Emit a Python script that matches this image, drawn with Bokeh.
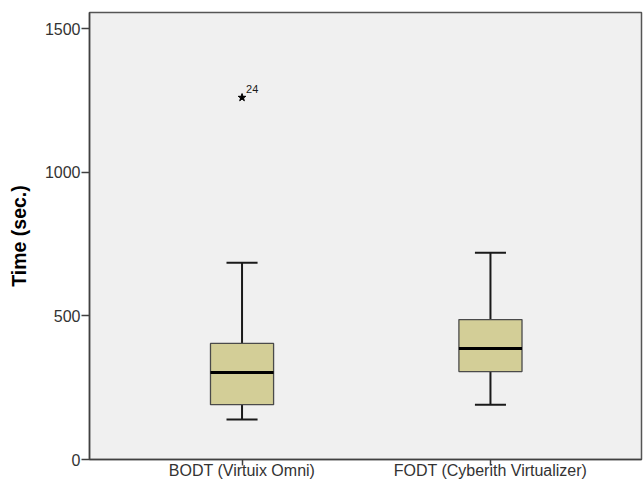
import numpy as np
from bokeh.plotting import figure
from bokeh.models import ColumnDataSource, FixedTicker, Range1d
from bokeh.core.properties import value
from bokeh.embed import file_html
from bokeh.resources import INLINE

categories = ["BODT (Virtuix Omni)", "FODT (Cyberith Virtualizer)"]
q1 = [191, 306]
median = [303, 386]
q3 = [404, 487]
lower = [139, 191]
upper = [685, 720]

outlier_cat = [0]
outlier_values = [1260]
outlier_labels = ["24"]

y_ticks = [0, 500, 1000, 1500]

box_w = 0.254
cap_w = 0.125
xs = np.arange(1, len(categories) + 1)

src = ColumnDataSource(dict(
    x=xs, q1=q1, med=median, q3=q3, lo=lower, hi=upper,
    bl=xs - box_w / 2, br=xs + box_w / 2,
    cl=xs - cap_w / 2, cr=xs + cap_w / 2,
))

p = figure(width=644, height=485, output_backend="svg", toolbar_location=None,
           x_range=Range1d(0.386, 2.608), y_range=Range1d(0, 1556),
           min_border_left=89, min_border_top=12, min_border_right=3, min_border_bottom=26)

p.background_fill_color = "#f0f0f0"
p.border_fill_color = "white"
p.outline_line_color = "#555555"
p.outline_line_width = 1.5
p.grid.visible = False

FONT = "Liberation Sans"

# whisker stems
p.segment(x0="x", y0="q3", x1="x", y1="hi", source=src, line_color="#1a1a1a", line_width=2)
p.segment(x0="x", y0="lo", x1="x", y1="q1", source=src, line_color="#1a1a1a", line_width=2)
# caps
p.segment(x0="cl", y0="hi", x1="cr", y1="hi", source=src, line_color="#1a1a1a", line_width=2)
p.segment(x0="cl", y0="lo", x1="cr", y1="lo", source=src, line_color="#1a1a1a", line_width=2)
# boxes
p.quad(left="bl", right="br", bottom="q1", top="q3", source=src,
       fill_color="#d3ce97", line_color="#4a4a4a", line_width=1.3)
# medians
p.segment(x0="bl", y0="med", x1="br", y1="med", source=src, line_color="black", line_width=3)

# outliers
ox = [xs[i] for i in outlier_cat]
osrc = ColumnDataSource(dict(x=ox, y=outlier_values, t=outlier_labels))
p.scatter(x="x", y="y", source=osrc, marker="star", size=8, fill_color="black", line_color="black")
p.text(x="x", y="y", text="t", source=osrc, x_offset=4, y_offset=-5,
       text_font=value(FONT), text_font_size="11px", text_color="#1a1a1a",
       text_baseline="bottom", text_align="left")

# axes
p.xaxis.ticker = FixedTicker(ticks=list(xs))
p.xaxis.major_label_overrides = {int(x): c for x, c in zip(xs, categories)}
p.yaxis.ticker = FixedTicker(ticks=y_ticks)

for ax in (p.xaxis[0], p.yaxis[0]):
    ax.axis_line_color = "#404040"
    ax.axis_line_width = 1.5
    ax.major_tick_line_color = "#404040"
    ax.major_tick_line_width = 1.5
    ax.major_tick_in = 0
    ax.minor_tick_line_color = None
    ax.major_label_text_font = FONT
    ax.major_label_text_font_size = "16px"
    ax.major_label_text_color = "#333333"

p.xaxis.major_tick_out = 6
p.xaxis.major_label_standoff = -4
p.yaxis.major_tick_out = 8
p.yaxis.major_label_standoff = 1

p.yaxis.axis_label = "Time (sec.)"
p.yaxis.axis_label_text_font = FONT
p.yaxis.axis_label_text_font_style = "bold"
p.yaxis.axis_label_text_font_size = "19.5px"
p.yaxis.axis_label_text_color = "black"
p.yaxis.axis_label_standoff = 12

open("out.html", "w").write(file_html(p, INLINE))
